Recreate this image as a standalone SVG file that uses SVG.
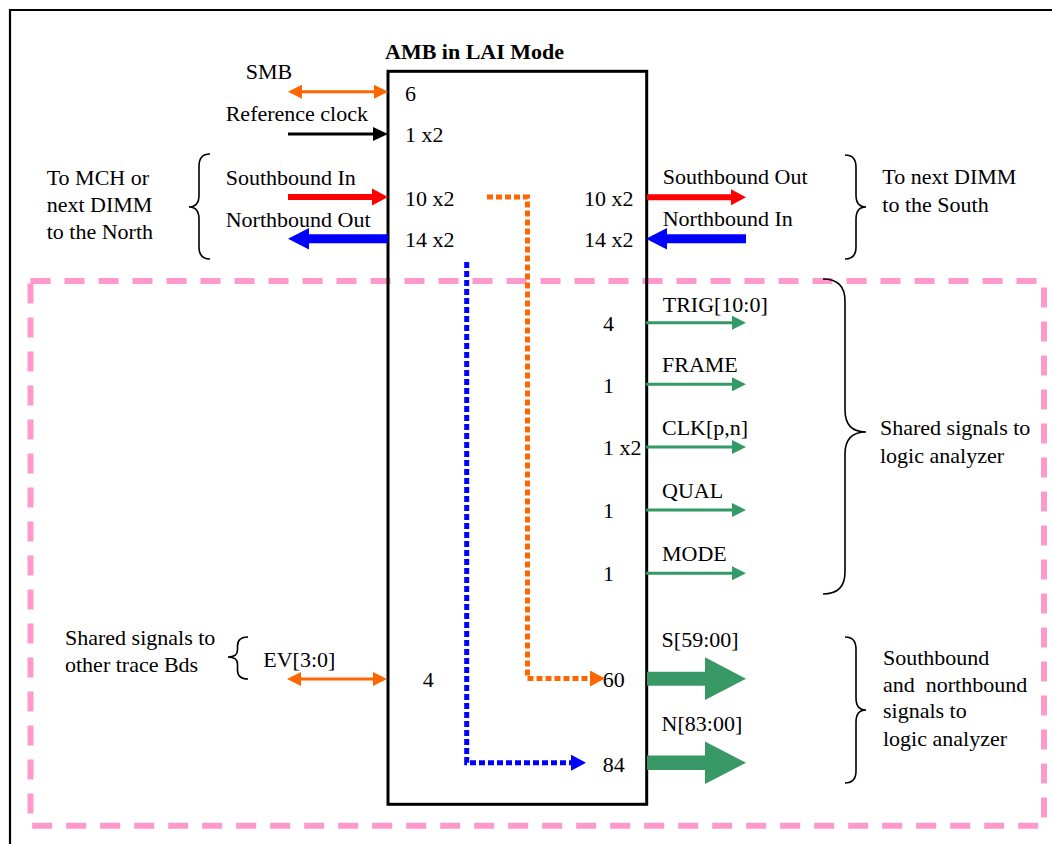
<svg xmlns="http://www.w3.org/2000/svg" width="1052" height="844" viewBox="0 0 1052 844">
<style>
text{font-family:"Liberation Serif","Times New Roman",serif;font-size:22px;fill:#000;white-space:pre}
.title{font-weight:bold;font-size:22px}
.brace{fill:none;stroke:#000;stroke-width:1.6}
.thin{fill:none;stroke-width:3}
.dot{fill:none;stroke-width:5;stroke-dasharray:6 3}
</style>
<defs>
<marker id="hOr" markerUnits="userSpaceOnUse" markerWidth="14" markerHeight="14" refX="5" refY="7" orient="auto-start-reverse"><path d="M0,0 L14,7 L0,14 Z" fill="#ff6600"/></marker>
<marker id="hBk" markerUnits="userSpaceOnUse" markerWidth="15" markerHeight="14" refX="5" refY="7" orient="auto"><path d="M0,0 L15,7 L0,14 Z" fill="#000"/></marker>
<marker id="hGr" markerUnits="userSpaceOnUse" markerWidth="14" markerHeight="14" refX="5" refY="7" orient="auto"><path d="M0,0 L14,7 L0,14 Z" fill="#339966"/></marker>
<marker id="hOr2" markerUnits="userSpaceOnUse" markerWidth="15" markerHeight="16" refX="1" refY="8" orient="auto"><path d="M0,0 L15,8 L0,16 Z" fill="#ff6600"/></marker>
<marker id="hBl2" markerUnits="userSpaceOnUse" markerWidth="15" markerHeight="16" refX="1" refY="8" orient="auto"><path d="M0,0 L15,8 L0,16 Z" fill="#0000ff"/></marker>
</defs>

<g id="frame">
<path d="M10,860 V10 H1070" fill="none" stroke="#000" stroke-width="2.2"/>
</g>
<g id="lai-region">
<rect x="30.5" y="281" width="1013.5" height="544.7" fill="none" stroke="#ff99cc" stroke-width="6" stroke-dasharray="20 14"/>
</g>

<g id="amb">
<rect x="388" y="71.3" width="258.7" height="733" fill="none" stroke="#000" stroke-width="3"/>
<text class="title" x="385" y="59.3">AMB in LAI Mode</text>
<text x="405" y="101">6</text>
<text x="405" y="142.3">1 x2</text>
<text x="405" y="205.7">10 x2</text>
<text x="405" y="247.3">14 x2</text>
<text x="584" y="205.7">10 x2</text>
<text x="584" y="247.3">14 x2</text>
<text x="603" y="331">4</text>
<text x="603" y="392.7">1</text>
<text x="603" y="455">1 x2</text>
<text x="603" y="518">1</text>
<text x="603" y="581">1</text>
<text x="422.7" y="687.3">4</text>
<text x="602.7" y="687">60</text>
<text x="602.7" y="771.7">84</text>
</g>

<g id="north-side">
<text x="245.7" y="79.3">SMB</text>
<text x="225.7" y="120.7">Reference clock</text>
<text x="225.7" y="185">Southbound In</text>
<text x="225.7" y="226.7">Northbound Out</text>
<text x="46.7" y="185">To MCH or</text>
<text x="46.7" y="211.7">next DIMM</text>
<text x="46.7" y="238.7">to the North</text>
<path class="brace" d="M210,154 Q199,154 199,166 L199,195 Q199,207 189,207 Q199,207 199,219 L199,247 Q199,259 210,259"/>
</g>

<g id="south-side">
<text x="662.7" y="184.3">Southbound Out</text>
<text x="662.7" y="226">Northbound In</text>
<text x="882.3" y="184.3">To next DIMM</text>
<text x="882.3" y="211.7">to the South</text>
<path class="brace" d="M845,155 Q856,155 856,167 L856,195 Q856,207 866,207 Q856,207 856,219 L856,247 Q856,259 845,259"/>
</g>

<g id="la-shared">
<text x="662.7" y="311.7">TRIG[10:0]</text>
<text x="662" y="371.7">FRAME</text>
<text x="662" y="435">CLK[p,n]</text>
<text x="662" y="498.3">QUAL</text>
<text x="662" y="561">MODE</text>
<text x="880" y="435">Shared signals to</text>
<text x="880" y="462.7">logic analyzer</text>
<path class="brace" d="M823,279 Q845,279 845,301 L845,410 Q845,432 866,432 Q845,432 845,454 L845,572 Q845,594 823,594"/>
</g>

<g id="trace-bds">
<text x="65" y="645">Shared signals to</text>
<text x="65" y="672.3">other trace Bds</text>
<text x="263.3" y="666.7">EV[3:0]</text>
<path class="brace" d="M248,637 Q237.5,637 237.5,646 L237.5,650 Q237.5,657 228,657 Q237.5,657 237.5,664 L237.5,670 Q237.5,679 248,679"/>
</g>

<g id="la-data">
<text x="661.6" y="646.7">S[59:00]</text>
<text x="661.6" y="731">N[83:00]</text>
<text x="883" y="665">Southbound</text>
<text x="883" y="691.7">and  northbound</text>
<text x="883" y="718.3">signals to</text>
<text x="883" y="745.7">logic analyzer</text>
<path class="brace" d="M845,637 Q856,637 856,649 L856,698 Q856,710 866,710 Q856,710 856,722 L856,771 Q856,783 845,783"/>
</g>

<g id="connectors">
<line class="thin" x1="297" y1="91.7" x2="379" y2="91.7" stroke="#ff6600" marker-start="url(#hOr)" marker-end="url(#hOr)"/>
<line class="thin" x1="288" y1="134" x2="378" y2="134" stroke="#000" marker-end="url(#hBk)"/>
<path d="M288,194 H372 V188.5 L388,197 L372,205.5 V200 H288 Z" fill="#ff0000"/>
<path d="M388,234.2 H309 V228 L288,238.7 L309,249.5 V243.2 H388 Z" fill="#0000ff"/>
<path d="M647,194.3 H731 V189.3 L746,197.3 L731,205.3 V200.3 H647 Z" fill="#ff0000"/>
<path d="M746,234.2 H667 V228 L646,238.7 L667,249.5 V243.2 H746 Z" fill="#0000ff"/>
<line class="thin" x1="646" y1="322.7" x2="737" y2="322.7" stroke="#339966" marker-end="url(#hGr)"/>
<line class="thin" x1="646" y1="384.3" x2="737" y2="384.3" stroke="#339966" marker-end="url(#hGr)"/>
<line class="thin" x1="646" y1="447" x2="737" y2="447" stroke="#339966" marker-end="url(#hGr)"/>
<line class="thin" x1="646" y1="510" x2="737" y2="510" stroke="#339966" marker-end="url(#hGr)"/>
<line class="thin" x1="646" y1="573.3" x2="737" y2="573.3" stroke="#339966" marker-end="url(#hGr)"/>
<line class="thin" x1="296" y1="679" x2="378" y2="679" stroke="#ff6600" marker-start="url(#hOr)" marker-end="url(#hOr)"/>
<path class="dot" d="M487,197 H527.5 V678.5 H591" stroke="#ff6600" marker-end="url(#hOr2)"/>
<path class="dot" d="M466.7,262 V762.7 H572" stroke="#0000ff" marker-end="url(#hBl2)"/>
<path d="M647,671.7 H705 V657.3 L746,678.7 L705,700 V685.7 H647 Z" fill="#389966"/>
<path d="M647,755.5 H705 V741.5 L746,762.7 L705,784 V770 H647 Z" fill="#389966"/>
</g>
</svg>
